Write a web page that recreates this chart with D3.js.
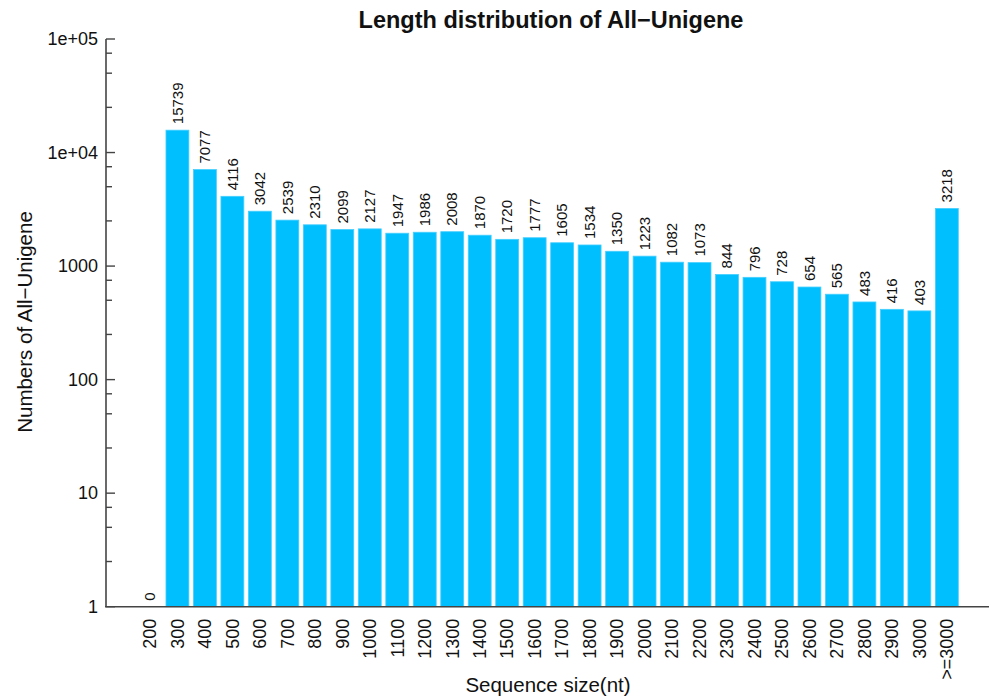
<!DOCTYPE html>
<html>
<head>
<meta charset="utf-8">
<script src="https://cdn.jsdelivr.net/npm/d3@7"></script>
<style>
  body { margin: 0; background: #fff; }
  text { font-family: "Liberation Sans", Arial, Helvetica, sans-serif; }
</style>
</head>
<body>
<div id="viz"></div>
<script>
const width = 989;
const height = 699;

// Data
const sizes = ['200', '300', '400', '500', '600', '700', '800', '900', '1000', '1100',
  '1200', '1300', '1400', '1500', '1600', '1700', '1800', '1900', '2000', '2100',
  '2200', '2300', '2400', '2500', '2600', '2700', '2800', '2900', '3000', '>=3000'];
const counts = [0, 15739, 7077, 4116, 3042, 2539, 2310, 2099, 2127, 1947,
  1986, 2008, 1870, 1720, 1777, 1605, 1534, 1350, 1223, 1082,
  1073, 844, 796, 728, 654, 565, 483, 416, 403, 3218];
const yMajorTicks = [1, 10, 100, 1000, 10000, 100000];
const yTickLabels = ['1', '10', '100', '1000', '1e+04', '1e+05'];
const yMinorTicks = [2.5, 5, 7.5, 25, 50, 75, 250, 500, 750, 2500, 5000, 7500, 25000, 50000, 75000];

const barColor = '#00bfff';
const axisColor = '#444';

const data = sizes.map((s, i) => ({size: s, count: counts[i]}));

const svg = d3.select('#viz')
  .append('svg')
    .attr('width', width)
    .attr('height', height);

// plot frame
const axisLeftX = 106;
const axisBottomY = 606.7;

// Scales
const xScale = d3.scaleBand()
  .domain(sizes)
  .range([138.5, 958.3])
  .paddingInner(1 / 6)
  .paddingOuter(0);

const yScale = d3.scaleLog()
  .domain([1, 100000])
  .range([axisBottomY, 39]);

// Bars
svg.append('g')
    .attr('class', 'bars')
  .selectAll('rect')
  .data(data)
  .join('rect')
    .attr('x', d => xScale(d.size))
    .attr('width', xScale.bandwidth())
    .attr('y', d => yScale(Math.max(d.count, 1)))
    .attr('height', d => axisBottomY - yScale(Math.max(d.count, 1)))
    .attr('fill', barColor)
    .attr('stroke', '#45cfff')
    .attr('stroke-width', 0.8);

// Value labels on top of bars (rotated)
svg.append('g')
    .attr('class', 'value-labels')
  .selectAll('text')
  .data(data)
  .join('text')
    .attr('transform', d => {
      const cx = xScale(d.size) + xScale.bandwidth() / 2;
      const cy = yScale(Math.max(d.count, 1)) - 6;
      return `translate(${cx},${cy}) rotate(-90)`;
    })
    .attr('dy', '0.35em')
    .attr('text-anchor', 'start')
    .style('font-size', '15px')
    .attr('fill', '#111')
    .text(d => d.count);

// Y axis
const yAxis = svg.append('g').attr('class', 'y-axis');
yAxis.append('line')
    .attr('x1', axisLeftX).attr('x2', axisLeftX)
    .attr('y1', yScale(100000)).attr('y2', axisBottomY)
    .attr('stroke', axisColor)
    .attr('stroke-width', 1.6);
yAxis.selectAll('.major')
  .data(yMajorTicks)
  .join('line')
    .attr('class', 'major')
    .attr('x1', axisLeftX).attr('x2', axisLeftX + 9)
    .attr('y1', d => yScale(d)).attr('y2', d => yScale(d))
    .attr('stroke', axisColor)
    .attr('stroke-width', 1.4);
yAxis.selectAll('.minor')
  .data(yMinorTicks)
  .join('line')
    .attr('class', 'minor')
    .attr('x1', axisLeftX).attr('x2', axisLeftX + 6)
    .attr('y1', d => yScale(d)).attr('y2', d => yScale(d))
    .attr('stroke', axisColor)
    .attr('stroke-width', 1.4);
yAxis.selectAll('.tick-label')
  .data(yMajorTicks)
  .join('text')
    .attr('class', 'tick-label')
    .attr('x', axisLeftX - 8)
    .attr('y', d => yScale(d))
    .attr('dy', '0.35em')
    .attr('text-anchor', 'end')
    .style('font-size', '18px')
    .attr('fill', '#111')
    .text((d, i) => yTickLabels[i]);

// X axis
const xAxis = svg.append('g').attr('class', 'x-axis');
xAxis.append('line')
    .attr('x1', axisLeftX - 1).attr('x2', width)
    .attr('y1', axisBottomY).attr('y2', axisBottomY)
    .attr('stroke', axisColor)
    .attr('stroke-width', 1.6);
xAxis.selectAll('text')
  .data(sizes)
  .join('text')
    .attr('transform', d => `translate(${xScale(d) + xScale.bandwidth() / 2},${axisBottomY + 12}) rotate(-90)`)
    .attr('dy', '0.35em')
    .attr('text-anchor', 'end')
    .style('font-size', '18px')
    .attr('fill', '#111')
    .text(d => d);

// Titles
svg.append('text')
    .attr('x', 551)
    .attr('y', 28)
    .attr('text-anchor', 'middle')
    .style('font-size', '23.5px')
    .style('font-weight', 'bold')
    .attr('fill', '#111')
    .text('Length distribution of All\u2212Unigene');

svg.append('text')
    .attr('x', 548)
    .attr('y', 692)
    .attr('text-anchor', 'middle')
    .style('font-size', '20.5px')
    .attr('fill', '#111')
    .text('Sequence size(nt)');

svg.append('text')
    .attr('transform', `translate(32,322) rotate(-90)`)
    .attr('text-anchor', 'middle')
    .style('font-size', '20.5px')
    .attr('fill', '#111')
    .text('Numbers of All\u2212Unigene');
</script>
</body>
</html>
